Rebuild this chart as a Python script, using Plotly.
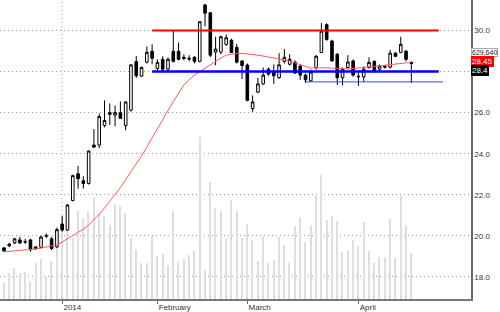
import plotly.graph_objects as go

# ---- data ----
opens = [19.41, 19.51, 19.65, 19.80, 19.72, 19.80, 19.46, 19.44, 19.98, 19.85,
         19.46, 20.57, 20.28, 21.72, 23.02, 22.68, 22.55, 24.42, 24.42, 25.38,
         26.00, 25.88, 26.00, 25.37, 26.12, 28.49, 27.78, 28.46, 28.99, 28.15,
         28.60, 28.12, 28.99, 28.99, 28.70, 28.65, 28.70, 28.50, 31.25, 30.87,
         28.95, 28.95, 29.33, 29.53, 29.18, 28.52, 28.32, 26.20, 27.00, 27.40,
         28.12, 28.00, 27.70, 28.50, 28.36, 28.46, 28.27, 27.83, 27.55, 28.20,
         28.93, 30.29, 29.49, 28.85, 27.70, 28.20, 28.52, 27.78, 27.74, 28.20,
         28.50, 28.12, 28.27, 28.22, 28.90, 28.94, 29.00, 28.45]
highs = [19.45, 19.65, 19.90, 19.95, 19.85, 19.85, 19.50, 20.00, 20.12, 19.95,
         20.40, 20.95, 21.55, 22.98, 23.40, 22.90, 24.15, 25.20, 25.96, 26.60,
         26.45, 26.35, 26.55, 26.55, 28.36, 28.76, 28.25, 29.23, 29.33, 28.60,
         28.75, 28.70, 30.00, 29.42, 28.85, 28.80, 28.75, 30.45, 31.30, 30.90,
         29.70, 29.75, 29.80, 29.60, 29.35, 28.55, 28.40, 26.84, 27.70, 28.20,
         28.20, 28.35, 28.90, 29.10, 28.85, 28.55, 28.35, 27.90, 28.10, 28.80,
         30.37, 30.35, 29.55, 28.90, 28.20, 28.80, 28.60, 28.00, 28.25, 28.70,
         28.55, 28.35, 28.30, 29.05, 28.95, 29.70, 29.05, 28.50]
lows = [19.20, 19.45, 19.60, 19.60, 19.60, 19.22, 19.33, 19.40, 19.90, 19.30,
        19.40, 20.20, 20.25, 21.68, 22.30, 22.30, 22.50, 24.30, 24.27, 25.28,
        25.40, 25.33, 25.70, 25.14, 26.05, 27.70, 27.75, 28.40, 28.36, 28.00,
        28.00, 27.95, 28.45, 28.55, 28.55, 28.50, 28.40, 28.45, 30.20, 28.70,
        28.30, 28.85, 29.25, 28.90, 28.40, 27.64, 26.55, 26.04, 26.95, 27.35,
        27.80, 27.40, 27.65, 28.40, 28.30, 27.90, 27.60, 27.45, 27.50, 28.10,
        28.90, 29.50, 28.50, 27.35, 27.32, 28.15, 27.75, 27.30, 27.50, 28.15,
        27.95, 28.05, 28.15, 28.15, 28.70, 28.90, 28.50, 27.45]
closes = [19.27, 19.60, 19.85, 19.65, 19.70, 19.32, 19.37, 19.94, 20.00, 19.38,
          20.30, 20.28, 21.50, 22.93, 22.78, 22.55, 24.13, 24.32, 25.81, 25.62,
          25.92, 26.00, 25.72, 26.52, 28.33, 27.80, 28.20, 28.94, 28.65, 28.45,
          28.12, 28.60, 28.50, 28.60, 28.65, 28.62, 28.50, 30.43, 30.85, 28.80,
          29.10, 29.70, 29.65, 28.93, 28.46, 28.30, 26.60, 26.52, 27.40, 27.83,
          27.88, 27.80, 28.33, 28.70, 28.60, 27.93, 27.83, 27.60, 27.98, 28.75,
          29.97, 29.57, 28.52, 27.70, 28.12, 28.47, 27.83, 27.75, 28.12, 28.45,
          28.02, 28.27, 28.22, 28.90, 28.75, 29.33, 28.60, 28.40]
volumes = [225000, 360000, 427000, 360000, 373000, 252000, 495000, 549000, 306000, 522000,
           737000, 1142000, 1034000, 832000, 1209000, 1101000, 1209000, 1398000, 1169000, 1128000,
           1007000, 1304000, 1277000, 1169000, 832000, 670000, 495000, 495000, 859000, 589000,
           616000, 454000, 1196000, 495000, 549000, 603000, 656000, 2220000, 400000, 1600000,
           1250000, 1209000, 818000, 1357000, 1196000, 832000, 1020000, 805000, 522000, 859000,
           495000, 535000, 845000, 737000, 495000, 993000, 1115000, 778000, 1007000, 1411000,
           1694000, 1074000, 1128000, 1061000, 643000, 670000, 805000, 724000, 1047000, 656000,
           495000, 576000, 576000, 1088000, 562000, 1411000, 1007000, 629640]
ma20 = [19.22, 19.24, 19.26, 19.28, 19.30, 19.32, 19.36, 19.40, 19.45, 19.50,
        19.56, 19.70, 19.85, 19.99, 20.13, 20.32, 20.52, 20.78, 21.05, 21.36,
        21.67, 22.01, 22.35, 22.73, 23.12, 23.50, 23.89, 24.32, 24.75, 25.21,
        25.67, 26.10, 26.54, 26.95, 27.35, 27.60, 27.83, 28.00, 28.17, 28.34,
        28.51, 28.66, 28.80, 28.85, 28.89, 28.89, 28.87, 28.84, 28.80, 28.76,
        28.72, 28.68, 28.63, 28.57, 28.51, 28.42, 28.32, 28.24, 28.17, 28.18,
        28.20, 28.19, 28.17, 28.15, 28.12, 28.13, 28.15, 28.18, 28.20, 28.22,
        28.24, 28.28, 28.32, 28.35, 28.39, 28.42, 28.44, 28.45]

tick_idx = [11, 29, 46, 67]
tick_text = ["2014", "February", "March", "April"]
price_ticks = [18, 20, 22, 24, 26, 28, 30]
# the 28.0 label sits hidden under the last-close marker in the reference
price_tick_text = ["18.0", "20.0", "22.0", "24.0", "26.0", "", "30.0"]

level_values = [30.0, 28.0, 27.5]
level_start = [28.0, 28.0, 57.0]
level_end = [82.2, 82.2, 83.0]

x = list(range(len(closes)))

FONT = "Liberation Sans, Arial, sans-serif"
fig = go.Figure()

# volume (base axis, drawn underneath)
fig.add_trace(go.Bar(x=x, y=volumes, yaxis="y", width=0.26,
                     marker=dict(color="#dedede", line=dict(width=0)),
                     hoverinfo="skip", showlegend=False))

# candles
fig.add_trace(go.Candlestick(
    x=x, open=opens, high=highs, low=lows, close=closes, yaxis="y2",
    increasing=dict(fillcolor="#ffffff", line=dict(color="#000000", width=1)),
    decreasing=dict(fillcolor="#000000", line=dict(color="#000000", width=1)),
    whiskerwidth=0, showlegend=False))

# moving average
fig.add_trace(go.Scatter(x=x, y=ma20, yaxis="y2", mode="lines",
                         line=dict(color="#ff5a5a", width=1), showlegend=False,
                         hoverinfo="skip"))

# horizontal level lines
styles = [dict(color="#ff0000", width=2), dict(color="#0000ff", width=2.5),
          dict(color="#4040ff", width=1)]
for v, s, e, st in zip(level_values, level_start, level_end, styles):
    fig.add_trace(go.Scatter(x=[s, e], y=[v, v], yaxis="y2", mode="lines",
                             line=st, showlegend=False, hoverinfo="skip"))

# year divider (dotted vertical)
fig.add_shape(type="line", xref="x", yref="paper", x0=tick_idx[0] - 0.04,
              x1=tick_idx[0] - 0.04, y0=0, y1=1,
              line=dict(color="#a0a0a0", width=1, dash="1px,3px"), layer="below")

W, H = 500, 312
ml, mr, mt, mb = 0, 29, 0, 9
ph = H - mt - mb

def ypaper(py):
    return 1 - py / ph

labels = [
    (f"{volumes[-1]:,}", 53.5, "#ffffff", "#222222", "#aaaaaa", 7),
    (f"{ma20[-1]:.2f}", 62.5, "#ff0000", "#ffffff", "#ff0000", 8),
    (f"{closes[-1]:.1f}", 71.0, "#000000", "#ffffff", "#000000", 8),
]
for txt, py, bg, fc, bc, fs in labels:
    fig.add_annotation(xref="paper", yref="paper", x=1, y=ypaper(py),
                       xanchor="left", yanchor="middle", xshift=0,
                       text=txt, showarrow=False, bgcolor=bg, bordercolor=bc,
                       borderwidth=1, borderpad=0,
                       font=dict(family=FONT, size=fs, color=fc))

fig.update_layout(
    width=W, height=H,
    margin=dict(l=ml, r=mr, t=mt, b=mb, pad=0),
    paper_bgcolor="#ffffff", plot_bgcolor="#ffffff",
    showlegend=False, bargap=0,
    font=dict(family=FONT, size=8, color="#333333"),
    xaxis=dict(range=[-0.756, 88.28], tickvals=tick_idx, ticktext=tick_text,
               ticks="outside", ticklen=3, tickwidth=1, tickcolor="#666666",
               ticklabelposition="outside right",
               tickfont=dict(family=FONT, size=8, color="#333333"),
               showgrid=False, zeroline=False, showline=True,
               linecolor="#777777", linewidth=1.5,
               rangeslider=dict(visible=False), fixedrange=True),
    yaxis=dict(range=[0, 4085000], visible=False, showgrid=False,
               zeroline=False, fixedrange=True),
    yaxis2=dict(overlaying="y", side="right", anchor="x",
                range=[16.92, 31.49], tickvals=price_ticks,
                ticktext=price_tick_text,
                ticks="", tickfont=dict(family=FONT, size=8, color="#333333"),
                showgrid=True, gridcolor="#a0a0a0", gridwidth=1, griddash="1px,3px",
                zeroline=False, showline=True, linecolor="#666666",
                linewidth=1.5, fixedrange=True),
)

fig.write_html("out.html")
